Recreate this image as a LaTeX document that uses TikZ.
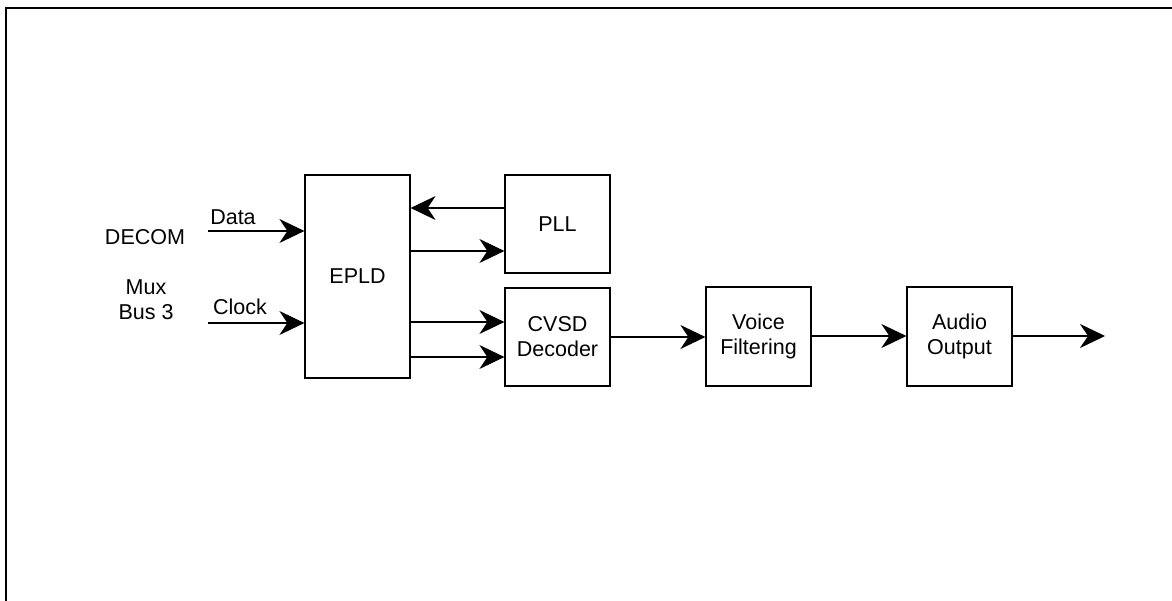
\documentclass[tikz,border=0pt]{standalone}
\usepackage{fontspec}
\setmainfont{Liberation Sans}
\usetikzlibrary{arrows.meta}
\begin{document}
\begin{tikzpicture}[x=1pt,y=-1pt,
  font=\fontsize{21.5}{25}\selectfont,
  blk/.style={draw,line width=1.2pt,inner sep=0pt,align=center},
  arr/.style={line width=1.2pt,-{Stealth[length=25pt,width=24pt,inset=8pt]}},
  lbl/.style={inner sep=0pt,align=center}]
\useasboundingbox (0,0) rectangle (1172,601);
\draw[line width=2pt] (6,601) -- (6,8) -- (1172,8);
% boxes
\node[blk,minimum width=105pt,minimum height=203pt] (epld) at (357.5,276.5) {EPLD};
\node[blk,minimum width=105pt,minimum height=98pt] (pll) at (557.5,224) {PLL};
\node[blk,minimum width=105pt,minimum height=98pt] (cvsd) at (557.5,337) {CVSD\\Decoder};
\node[blk,minimum width=105pt,minimum height=99pt] (voice) at (758.5,336.5) {Voice\\Filtering};
\node[blk,minimum width=105pt,minimum height=99pt] (audio) at (959.5,336.5) {Audio\\Output};
% labels
\node[lbl] (decom) at (145,237) {DECOM};
\node[lbl] (mux) at (146,300) {Mux\\Bus 3};
\node[lbl] (data) at (233,217) {Data};
\node[lbl] (clock) at (240,307) {Clock};
% free ends
\coordinate (dataS) at (208,231);
\coordinate (clockS) at (208,323);
\coordinate (outE) at (1105,336);
% connectors
\draw[arr] (dataS) -- (epld.west |- dataS);
\draw[arr] (clockS) -- (epld.west |- clockS);
\draw[arr] (pll.west |- 0,208) -- (epld.east |- 0,208);
\draw[arr] (epld.east |- 0,251) -- (pll.west |- 0,251);
\draw[arr] (epld.east |- 0,322) -- (cvsd.west |- 0,322);
\draw[arr] (epld.east |- 0,357) -- (cvsd.west |- 0,357);
\draw[arr] (cvsd.east |- 0,337) -- (voice.west |- 0,337);
\draw[arr] (voice.east |- 0,336) -- (audio.west |- 0,336);
\draw[arr] (audio.east |- outE) -- (outE);
\end{tikzpicture}
\end{document}
